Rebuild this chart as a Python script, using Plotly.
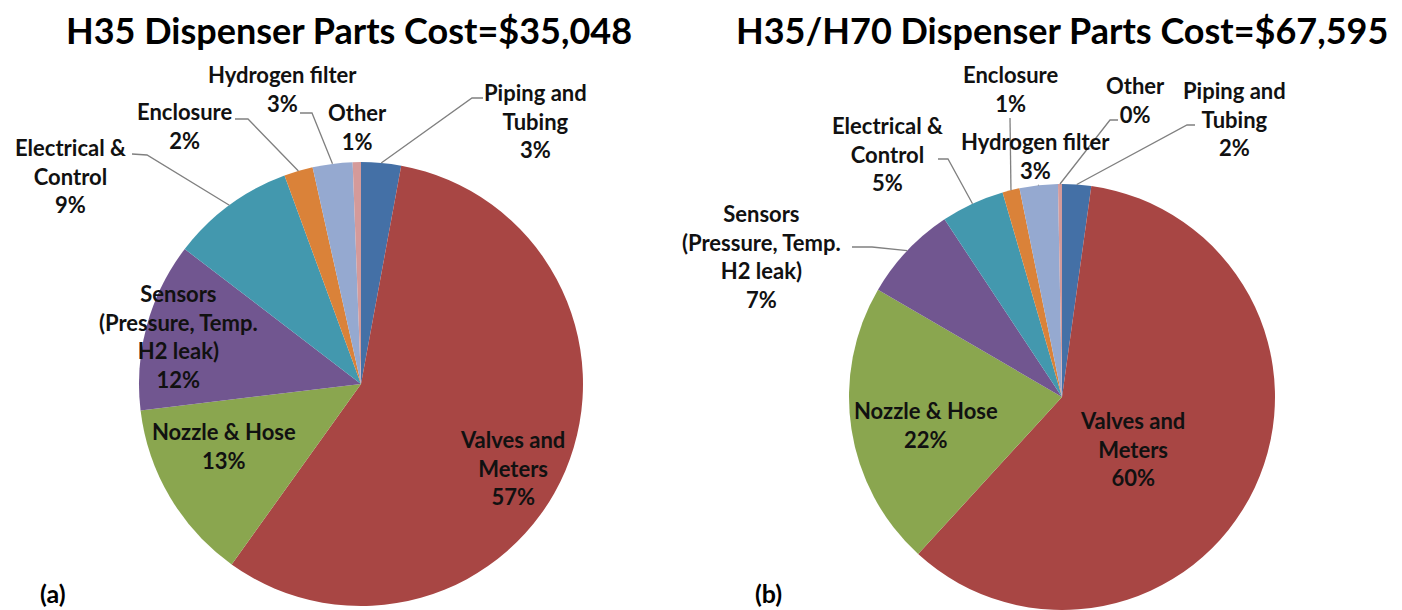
import math
import plotly.graph_objects as go

W, H = 1402, 610

categories = ["Piping and Tubing", "Valves and Meters", "Nozzle & Hose",
              "Sensors (Pressure, Temp. H2 leak)", "Electrical & Control",
              "Enclosure", "Hydrogen filter", "Other"]
label_lines = ["Piping and<br>Tubing", "Valves and<br>Meters", "Nozzle & Hose",
               "Sensors<br>(Pressure, Temp.<br>H2 leak)", "Electrical &<br>Control",
               "Enclosure", "Hydrogen filter", "Other"]
# shares of parts cost (%)
h35_values = [2.9, 57.0, 13.2, 12.3, 9.0, 2.1, 2.9, 0.6]
h3570_values = [2.2, 59.6, 21.6, 7.3, 4.8, 1.3, 2.9, 0.3]
colors = ["#4470A6", "#A84644", "#8AA64F", "#715690", "#4398AE",
          "#DA8239", "#95A9D0", "#D49A9A"]

titles = ["H35 Dispenser Parts Cost=$35,048", "H35/H70 Dispenser Parts Cost=$67,595"]
panel_tags = ["(a)", "(b)"]

FONT = "Lato"
TXT = "#111111"
LEADER = "#808080"


def px(x, y):
    return x / W, 1 - y / H


# pie geometry (pixels): centre x, centre y, radius
pies = [
    dict(values=h35_values, cx=361, cy=384, r=222,
         labels=[
             dict(pos=(535, 121), lead=[(483, 98), (472, 98)]),
             dict(pos=(512, 468)),
             dict(pos=(224, 446)),
             dict(pos=(178, 336)),
             dict(pos=(70, 176), lead=[(132, 154), (147, 155)]),
             dict(pos=(184, 126), lead=[(235, 119), (248, 119)]),
             dict(pos=(282, 89), lead=[(300, 113), (312, 113)]),
             dict(pos=(357, 127)),
         ],
         title_pos=(349, 30), tag_pos=(53, 593)),
    dict(values=h3570_values, cx=1062, cy=397, r=213,
         labels=[
             dict(pos=(1234, 119), lead=[(1195, 125), (1187, 125)]),
             dict(pos=(1132, 449)),
             dict(pos=(926, 425)),
             dict(pos=(761, 256), lead=[(852, 247), (872, 247)]),
             dict(pos=(887, 154), lead=[(938, 159), (948, 159)]),
             dict(pos=(1010, 89), lead=[(1010, 118)]),
             dict(pos=(1035, 156), lead=[(1038, 185)]),
             dict(pos=(1135, 100), lead=[(1118, 120), (1110, 120)]),
         ],
         title_pos=(1062, 30), tag_pos=(768, 593)),
]

fig = go.Figure()
annotations = []
shapes = []

for k, p in enumerate(pies):
    cx, cy, r = p["cx"], p["cy"], p["r"]
    x0, y0 = px(cx - r, cy + r)
    x1, y1 = px(cx + r, cy - r)
    fig.add_trace(go.Pie(
        labels=categories, values=p["values"], sort=False, direction="clockwise",
        rotation=0, textinfo="none", hoverinfo="label+percent",
        marker=dict(colors=colors, line=dict(width=0)),
        domain=dict(x=[x0, x1], y=[y0, y1]), showlegend=False,
    ))
    total = sum(p["values"])
    cum = 0.0
    for i, v in enumerate(p["values"]):
        pct = 100.0 * v / total
        mid = (cum + v / 2) / total * 2 * math.pi
        cum += v
        lab = p["labels"][i]
        text = f"{label_lines[i]}<br>{round(pct):d}%"
        lx, ly = px(*lab["pos"])
        annotations.append(dict(
            x=lx, y=ly, xref="paper", yref="paper", text=text, showarrow=False,
            xanchor="center", yanchor="middle", align="center",
            font=dict(family=FONT, size=22, color=TXT, weight="bold"),
        ))
        if "lead" in lab:
            ex = cx + r * math.sin(mid)
            ey = cy - r * math.cos(mid)
            pts = list(lab["lead"]) + [(ex, ey)]
            path = "M " + " L ".join(f"{px(a, b)[0]},{px(a, b)[1]}" for a, b in pts)
            shapes.append(dict(type="path", path=path, xref="paper", yref="paper",
                               line=dict(color=LEADER, width=1.3)))
    tx, ty = px(*p["title_pos"])
    annotations.append(dict(
        x=tx, y=ty, xref="paper", yref="paper", text=titles[k], showarrow=False,
        xanchor="center", yanchor="middle",
        font=dict(family=FONT, size=36, color="#000000", weight="bold"),
    ))
    gx, gy = px(*p["tag_pos"])
    annotations.append(dict(
        x=gx, y=gy, xref="paper", yref="paper", text=panel_tags[k], showarrow=False,
        xanchor="center", yanchor="middle",
        font=dict(family=FONT, size=25, color="#000000", weight="bold"),
    ))

fig.update_layout(
    width=W, height=H, margin=dict(l=0, r=0, t=0, b=0),
    paper_bgcolor="white", plot_bgcolor="white",
    annotations=annotations, shapes=shapes,
)

fig.write_html("out.html", config={"displayModeBar": False},
               post_script="document.body.style.margin='0px';document.body.style.overflow='hidden';")
